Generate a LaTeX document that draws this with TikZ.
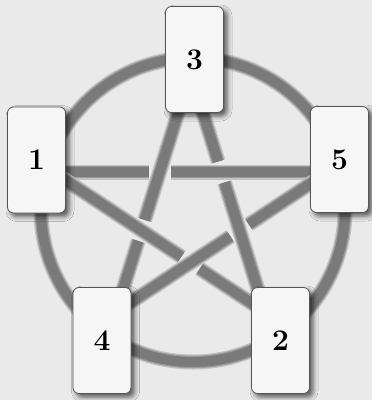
\documentclass[tikz,border=0pt]{standalone}
\usetikzlibrary{calc,shadows.blur}
\definecolor{bg}{RGB}{234,234,234}
\definecolor{cardfill}{RGB}{246,246,246}
\definecolor{cardline}{RGB}{85,85,85}
\definecolor{bandcore}{RGB}{122,122,122}
\definecolor{bandmid}{RGB}{155,155,155}
\definecolor{bandhalo}{RGB}{194,194,194}
\tikzset{
  band/.style={draw=bandcore, line width=10pt, line cap=butt,
    preaction={draw=bandhalo, line width=15pt, line cap=butt},
    preaction={draw=bandmid, line width=12.5pt, line cap=butt}},
  card/.style={draw=cardline, line width=0.8pt, fill=cardfill,
    rounded corners=6pt, minimum width=58pt, minimum height=106pt,
    inner sep=0pt, font=\fontsize{30}{30}\selectfont\bfseries,
    blur shadow={shadow xshift=3.5pt, shadow yshift=-3.5pt,
      shadow blur radius=5pt, shadow opacity=65}},
}
\begin{document}
\begin{tikzpicture}[x=1pt,y=-1pt]
\useasboundingbox (0,0) rectangle (372,400);
\fill[bg] (0,0) rectangle (372,400);
% star vertices
\coordinate (T)  at (190.5,73);
\coordinate (L)  at (53,172);
\coordinate (R)  at (328,172);
\coordinate (BL) at (116,312);
\coordinate (BR) at (265,312);
% crossings
\coordinate (xAC) at (intersection of T--BL and L--R);
\coordinate (xBC) at (intersection of T--BR and L--R);
\coordinate (xAD) at (intersection of T--BL and L--BR);
\coordinate (xDE) at (intersection of L--BR and R--BL);
\coordinate (xBE) at (intersection of T--BR and R--BL);
% circle
\draw[band] (193,210) circle[radius=152pt];
% A: T -> BL, gap under D
\draw[band] (T) -- ($(xAD)!11pt!(T)$);
\draw[band] ($(xAD)!11pt!(BL)$) -- (BL);
% B: T -> BR, gap under C
\draw[band] (T) -- ($(xBC)!11pt!(T)$);
\draw[band] ($(xBC)!11pt!(BR)$) -- (BR);
% C: L -> R, gap under A
\draw[band] (L) -- ($(xAC)!11pt!(L)$);
\draw[band] ($(xAC)!11pt!(R)$) -- (R);
% D: L -> BR, gap under E
\draw[band] (L) -- ($(xDE)!11pt!(L)$);
\draw[band] ($(xDE)!11pt!(BR)$) -- (BR);
% E: R -> BL, gap under B
\draw[band] (R) -- ($(xBE)!11pt!(R)$);
\draw[band] ($(xBE)!11pt!(BL)$) -- (BL);
% cards
\node[card] (c3) at (194.5,59.5) {\raisebox{-2.5pt}{3}};
\node[card] (c1) at (36.5,160) {\raisebox{-2.5pt}{1}};
\node[card] (c5) at (339.5,159.5) {\raisebox{-3pt}{5}};
\node[card] (c4) at (102,340.5) {\raisebox{-4pt}{4}};
\node[card] (c2) at (280.5,340.5) {\raisebox{-4pt}{2}};
\end{tikzpicture}
\end{document}
